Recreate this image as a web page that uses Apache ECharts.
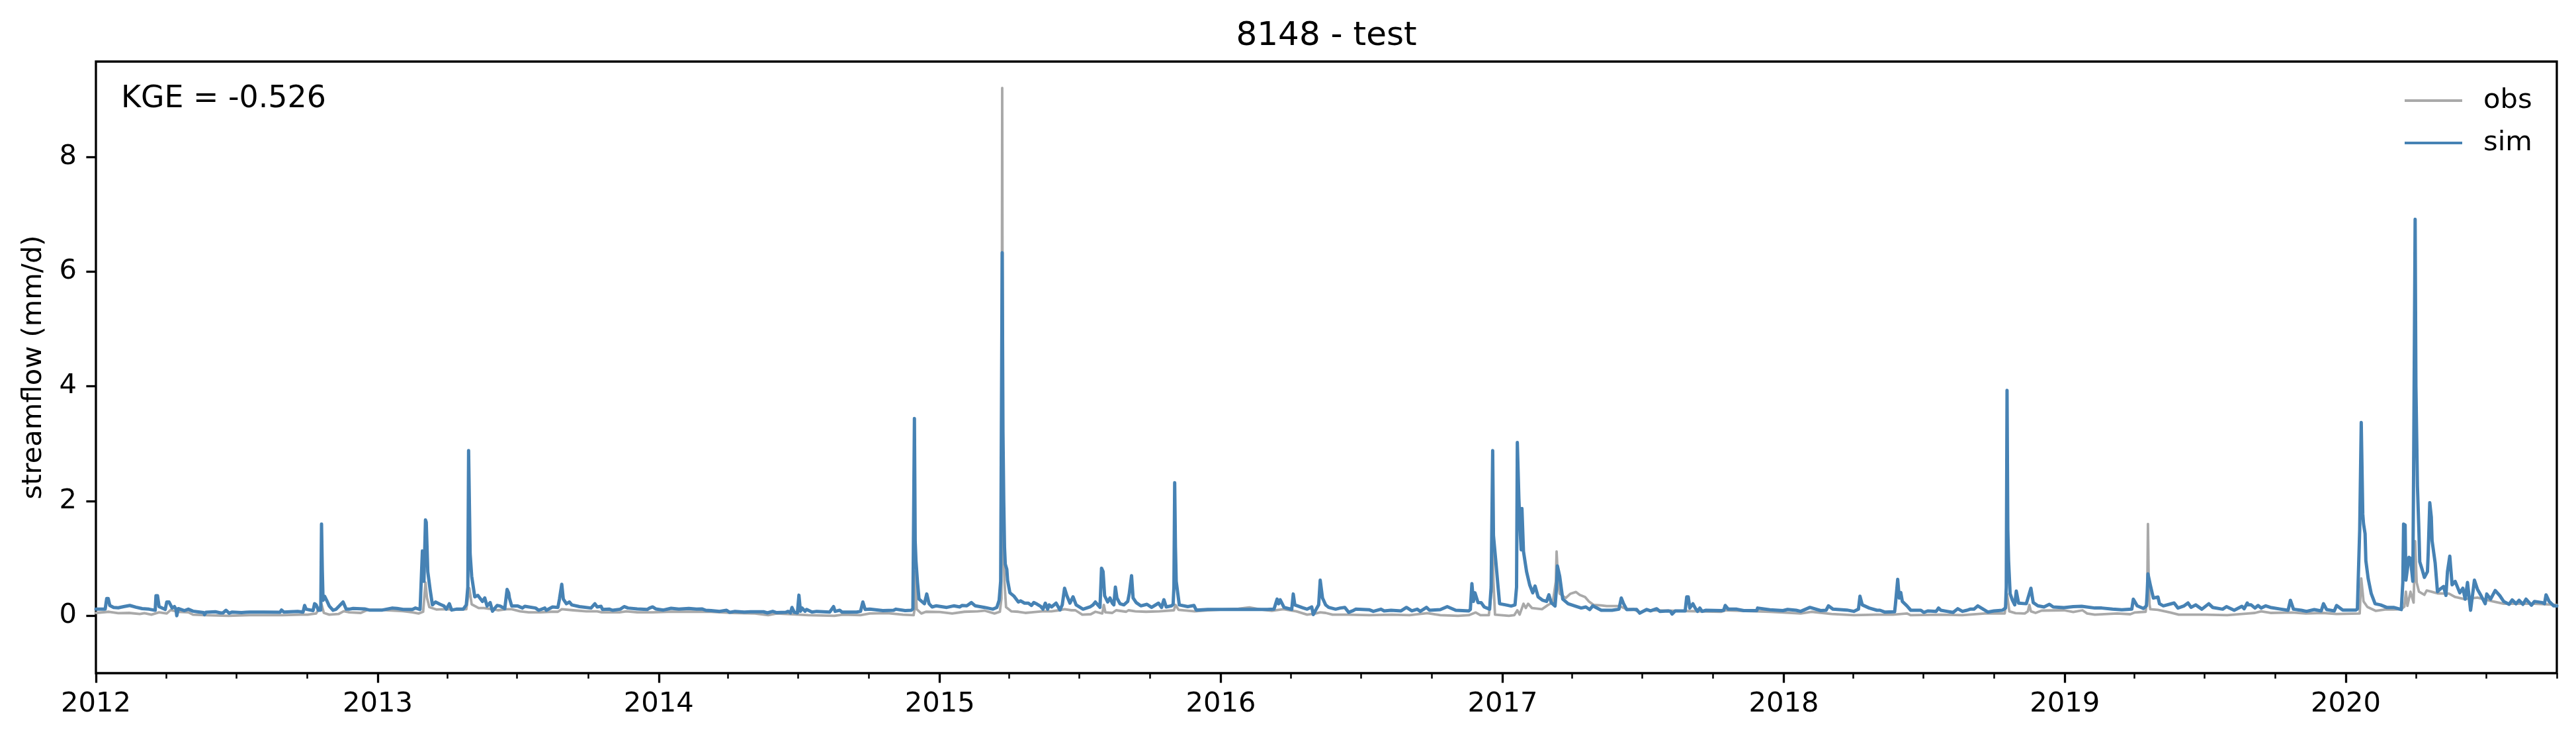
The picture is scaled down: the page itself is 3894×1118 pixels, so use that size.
<!DOCTYPE html>
<html>
<head>
<meta charset="utf-8">
<style>html,body{margin:0;padding:0;background:#fff}#c{width:3894px;height:1118px}</style>
<script src="https://cdn.jsdelivr.net/npm/echarts@6/dist/echarts.min.js"></script>
</head>
<body>
<div id="c"></div>
<script>
// [days since 2012-01-01, streamflow in mm/d]
const simFlow = [[0,.115],[12,.115],[14,.30],[16,.30],[18,.18],[23,.145],[29,.14],[36,.16],[44,.18],[52,.15],[60,.125],[69,.115],[77,.095],[78,.35],[80,.35],[82,.16],[90,.11],[92,.24],[95,.24],[99,.135],[102,.16],[104,.115],[105,0],[107,.125],[115,.09],[120,.115],[126,.08],[135,.065],[140,.055],[141,.02],[143,.06],[155,.07],[162,.05],[165,.05],[169,.096],[173,.045],[177,.065],[189,.055],[195,.06],[200,.065],[218,.065],[239,.06],[241,.10],[244,.065],[252,.07],[262,.077],[269,.065],[271,.18],[273,.115],[282,.09],[284,.21],[286,.19],[289,.096],[292,.10],[293,1.60],[294,.8],[295,.27],[297,.34],[300,.26],[303,.17],[308,.096],[312,.115],[316,.17],[321,.24],[325,.115],[329,.115],[334,.127],[349,.12],[355,.10],[372,.10],[385,.135],[391,.127],[399,.11],
[411,.11],[415,.135],[421,.11],[422,.115],[424,1.13],[426,.60],[428,1.67],[429,1.63],[431,.77],[434,.46],[437,.19],[441,.24],[447,.20],[452,.17],[455,.115],[459,.21],[462,.10],[468,.115],[477,.115],[481,.19],[483,.5],[484,2.88],[486,1.08],[488,.69],[492,.33],[496,.355],[502,.25],[505,.31],[508,.17],[512,.23],[515,.08],[521,.18],[525,.17],[531,.125],[534,.46],[536,.40],[537,.31],[540,.17],[548,.17],[554,.135],[557,.165],[571,.135],[575,.096],[583,.135],[585,.096],[593,.154],[600,.146],[602,.29],[605,.55],[607,.29],[611,.21],[615,.24],[618,.19],[628,.16],[643,.135],[648,.21],[651,.154],[656,.165],[658,.11],[667,.115],[671,.096],[681,.115],[686,.16],[691,.135],[703,.12],[716,.11],[719,.135],[723,.154],[727,.12],[737,.10],[747,.13],[757,.115],[770,.127],[780,.115],[787,.12],[792,.096],[799,.09],
[810,.077],[819,.096],[823,.06],[830,.077],[842,.065],[850,.07],[867,.07],[872,.05],[879,.077],[884,.055],[896,.06],[899,.077],[902,.05],[904,.145],[907,.06],[911,.05],[913,.36],[914,.36],[915,.08],[917,.135],[921,.08],[923,.11],[930,.065],[936,.077],[953,.065],[958,.16],[960,.077],[966,.096],[969,.065],[988,.065],[993,.077],[996,.24],[999,.11],[1005,.115],[1022,.09],[1036,.096],[1039,.115],[1051,.09],[1059,.096],[1061,.12],[1063,3.44],[1064,1.3],[1065,.96],[1067,.58],[1069,.29],[1076,.21],[1079,.38],[1082,.21],[1086,.154],[1091,.173],[1105,.146],[1114,.173],[1122,.154],[1125,.18],[1131,.173],[1137,.23],[1142,.173],[1154,.146],[1165,.115],[1170,.146],[1173,.27],[1175,.6],[1177,6.33],[1178,3.2],[1179,2.0],[1180,1.2],[1181,.9],[1183,.81],[1184,.62],[1187,.40],[1192,.346],[1198,.24],
[1201,.26],[1206,.22],[1211,.22],[1215,.18],[1218,.23],[1222,.205],[1227,.163],[1230,.115],[1233,.22],[1236,.115],[1238,.19],[1241,.154],[1247,.22],[1252,.10],[1255,.19],[1258,.48],[1261,.35],[1265,.22],[1269,.33],[1273,.19],[1282,.115],[1291,.154],[1295,.19],[1298,.24],[1304,.146],[1306,.83],[1308,.77],[1310,.35],[1314,.24],[1317,.31],[1320,.22],[1322,.19],[1324,.50],[1326,.31],[1330,.21],[1335,.19],[1340,.25],[1342,.385],[1345,.70],[1347,.31],[1351,.23],[1357,.173],[1365,.20],[1371,.146],[1380,.22],[1384,.146],[1387,.28],[1390,.154],[1397,.173],[1399,.20],[1400,.5],[1401,2.32],[1402,1.2],[1403,.6],[1407,.19],[1418,.16],[1426,.18],[1429,.10],[1444,.11],[1484,.11],[1504,.11],[1521,.11],[1530,.115],[1534,.29],[1536,.21],[1538,.28],[1543,.146],[1553,.11],[1555,.38],[1557,.19],[1567,.14],[1573,.115],[1579,.154],[1581,.02],[1584,.096],[1588,.19],[1590,.62],[1593,.31],[1597,.19],
[1601,.146],[1610,.115],[1616,.135],[1622,.146],[1627,.06],[1632,.085],[1636,.115],[1654,.104],[1659,.077],[1669,.115],[1673,.085],[1682,.096],[1695,.085],[1702,.146],[1709,.085],[1716,.115],[1720,.077],[1728,.146],[1732,.096],[1746,.108],[1755,.16],[1766,.096],[1783,.085],[1785,.11],[1787,.56],[1789,.25],[1791,.4],[1792,.41],[1795,.23],[1799,.23],[1803,.154],[1810,.115],[1812,.5],[1814,2.88],[1815,1.4],[1818,.96],[1821,.5],[1823,.21],[1831,.19],[1838,.17],[1843,.19],[1845,.5],[1846,3.02],[1848,2.05],[1850,1.4],[1851,1.15],[1852,1.87],[1853,1.87],[1854,1.12],[1858,.77],[1862,.54],[1866,.40],[1869,.52],[1873,.33],[1879,.27],[1884,.25],[1887,.365],[1890,.23],[1895,.17],[1897,.5],[1898,.87],[1901,.69],[1905,.29],[1912,.21],[1921,.17],[1929,.135],[1935,.154],[1940,.108],[1944,.173],[1955,.096],[1969,.096],[1978,.115],[1981,.31],[1984,.21],[1988,.108],[1997,.11],
[2001,.11],[2005,.046],[2014,.11],[2019,.085],[2027,.123],[2031,.077],[2042,.085],[2045,.077],[2047,.03],[2051,.085],[2064,.085],[2066,.33],[2068,.33],[2070,.135],[2074,.21],[2077,.135],[2080,.077],[2083,.135],[2086,.077],[2091,.096],[2111,.09],[2114,.096],[2116,.18],[2120,.115],[2131,.115],[2140,.09],[2157,.09],[2158,.135],[2174,.104],[2191,.09],[2197,.11],[2208,.096],[2214,.077],[2226,.146],[2240,.09],[2247,.096],[2250,.173],[2256,.115],[2274,.10],[2283,.077],[2289,.115],[2291,.34],[2294,.19],[2303,.135],[2313,.096],[2317,.096],[2323,.065],[2336,.07],[2337,.19],[2340,.635],[2342,.31],[2344,.405],[2346,.25],[2352,.173],[2357,.096],[2370,.096],[2374,.058],[2379,.085],[2390,.077],[2393,.135],[2396,.096],
[2404,.077],[2412,.058],[2418,.123],[2424,.077],[2430,.096],[2434,.115],[2439,.115],[2444,.173],[2450,.123],[2457,.065],[2465,.085],[2476,.096],[2480,.135],[2481,.5],[2482,3.93],[2483,1.5],[2484,.96],[2486,.385],[2489,.27],[2492,.19],[2494,.43],[2497,.22],[2507,.21],[2513,.48],[2516,.23],[2522,.173],[2530,.154],[2537,.20],[2542,.154],[2556,.142],[2568,.16],[2579,.165],[2596,.135],[2605,.135],[2619,.115],[2631,.104],[2644,.115],[2646,.29],[2651,.173],[2659,.127],[2663,.173],[2664,.4],[2665,.73],[2668,.54],[2672,.31],[2678,.327],[2680,.21],[2685,.173],[2699,.223],[2704,.135],[2712,.173],[2717,.223],[2721,.146],[2727,.19],[2735,.115],[2744,.21],[2749,.146],[2762,.115],[2767,.16],[2777,.096],[2787,.165],[2790,.123],[2794,.223],[2795,.19],
[2799,.19],[2804,.135],[2808,.18],[2812,.135],[2818,.173],[2824,.146],[2838,.115],[2847,.096],[2850,.27],[2854,.115],[2864,.096],[2871,.077],[2881,.108],[2890,.085],[2893,.21],[2897,.108],[2907,.085],[2910,.18],[2918,.10],[2935,.10],[2937,.12],[2940,1.5],[2942,3.37],[2944,1.77],[2945,1.6],[2947,1.43],[2948,.96],[2951,.65],[2955,.385],[2960,.21],[2967,.19],[2975,.146],[2984,.146],[2994,.108],[2996,.58],[2997,1.6],[2999,1.58],[3000,.62],[3004,1.02],[3006,1.0],[3009,.6],[3010,2.5],[3012,6.91],[3013,4],[3015,2.26],[3017,1.43],[3018,.94],[3021,.81],[3024,.67],[3028,.77],[3029,1.1],[3031,1.97],[3033,1.72],[3034,1.31],[3038,.92],[3041,.42],[3044,.46],[3049,.51],[3052,.355],[3054,.77],[3057,1.04],[3060,.54],[3064,.6],[3070,.40],[3074,.48],[3077,.29],[3080,.58],[3084,.096],[3089,.62],[3093,.46],[3097,.365],[3103,.21],[3105,.38],[3110,.29],[3116,.44],[3122,.35],[3127,.25],[3134,.2],[3138,.277],[3143,.21],[3147,.27],[3152,.2],[3156,.29],[3163,.185],[3167,.25],[3177,.23],[3180,.21],[3182,.365],[3186,.25],[3192,.173],[3196,.17]];

const obsFlow = [[0,.05],[17,.07],[29,.045],[43,.05],[57,.03],[63,.045],[72,.02],[77,.04],[82,.06],[92,.04],[97,.10],[106,.07],[120,.06],[126,.02],[140,.01],[172,0],[200,.01],[243,.01],[266,.02],[275,.02],[286,.04],[293,.2],[296,.05],[303,.02],[315,.03],[322,.08],[329,.06],[344,.05],[352,.10],[372,.10],[399,.08],
[411,.06],[419,.04],[425,.07],[428,.58],[430,.31],[433,.15],[442,.11],[451,.115],[471,.105],[481,.115],[485,.48],[488,.20],[497,.135],[504,.135],[514,.115],[522,.096],[534,.115],[540,.115],[551,.077],[562,.06],[577,.06],[591,.07],[600,.07],[605,.115],[620,.096],[637,.077],[651,.077],[657,.06],[680,.06],[689,.077],[703,.06],[723,.06],[743,.07],[772,.07],[799,.07],
[827,.05],[856,.04],[873,.01],[884,.04],[913,.02],[925,.01],[959,0],[970,.02],[993,.01],[1005,.04],[1028,.046],[1048,.02],[1062,.01],[1063,.1],[1064,.77],[1066,.115],[1072,.04],[1078,.07],[1096,.065],[1112,.04],[1128,.07],[1145,.077],[1154,.09],[1167,.04],[1174,.07],[1176,.3],[1177,9.2],[1178,1.5],[1180,.58],[1182,.15],[1189,.077],[1198,.07],
[1207,.05],[1215,.06],[1229,.077],[1241,.077],[1251,.096],[1258,.115],[1267,.096],[1272,.096],[1281,.02],[1292,.027],[1298,.07],[1307,.04],[1309,.19],[1311,.06],[1320,.05],[1325,.096],[1338,.07],[1341,.096],[1350,.077],[1364,.07],[1381,.077],[1400,.096],[1402,.19],[1406,.104],[1427,.077],[1444,.096],[1484,.123],[1498,.146],[1513,.108],[1527,.085],[1542,.115],[1559,.077],[1573,.02],[1584,.04],[1590,.06],[1597,.05],
[1606,.02],[1626,.02],[1654,.01],[1683,.02],[1706,.01],[1729,.046],[1746,.01],[1769,0],[1783,.01],[1792,.058],[1798,.01],[1809,.01],[1813,.5],[1814,1.35],[1815,.6],[1817,.02],[1835,0],[1842,.01],[1846,.096],[1849,.02],[1854,.21],[1857,.135],[1860,.21],[1865,.135],[1878,.115],[1886,.19],[1892,.23],[1896,.6],[1897,1.12],[1899,.6],[1901,.385],[1909,.31],[1915,.385],[1922,.415],[1927,.365],[1934,.327],[1939,.25],[1945,.19],[1955,.18],[1962,.17],[1978,.17],[1988,.115],[1997,.115],
[2005,.058],[2014,.096],[2111,.07],[2117,.096],[2174,.07],[2191,.058],[2214,.04],[2228,.07],[2254,.03],[2283,.01],[2311,.02],[2334,.02],[2352,.04],[2357,.01],[2396,.02],
[2424,.01],[2453,.04],[2479,.04],[2482,.38],[2485,.077],[2493,.046],[2505,.04],[2509,.077],[2511,.19],[2513,.077],[2519,.05],[2527,.09],[2556,.096],[2568,.065],[2580,.096],[2586,.04],[2596,.02],[2625,.04],[2642,.027],[2648,.058],[2662,.07],[2664,.3],[2665,1.6],[2666,.6],[2667,.2],[2668,.115],[2678,.104],[2694,.058],[2705,.02],[2739,.02],[2768,.01],[2795,.04],
[2804,.05],[2812,.077],[2824,.05],[2852,.058],[2870,.04],[2892,.05],[2910,.03],[2940,.04],[2942,.65],[2945,.25],[2950,.154],[2961,.085],[2973,.108],[2984,.108],[2994,.115],[2998,.16],[3000,.42],[3002,.173],[3006,.42],[3010,.23],[3012,1.3],[3014,.58],[3017,.42],[3024,.365],[3027,.44],[3033,.42],[3041,.39],[3056,.385],[3064,.327],[3076,.29],[3093,.316],[3113,.25],[3127,.21],[3147,.21],[3167,.21],[3196,.19]];

const startDate = '2012-01-01';
const endDate = '2020-10-01';
const yearTicks = ['2012','2013','2014','2015','2016','2017','2018','2019','2020'];
const quarterMonths = ['04','07','10'];
const flowTicks = [0,2,4,6,8];
const yRange = [-1, 9.66];
const seriesNames = ['obs','sim'];
const titleText = '8148 - test';
const scoreText = 'KGE = -0.526';
const yLabel = 'streamflow (mm/d)';

const FONT = '"DejaVu Sans"';
const ms = s => Date.parse(s + 'T00:00:00Z');
const DAY = 86400000;
const toDated = rows => rows.map(r => [ms(startDate) + r[0] * DAY, r[1]]);
const yearMs = yearTicks.map(y => ms(y + '-01-01'));
const minorMs = [];
yearTicks.forEach(y => quarterMonths.forEach(m => {
  const t = ms(y + '-' + m + '-01');
  if (t <= ms(endDate)) minorMs.push(t);
}));

const chart = echarts.init(document.getElementById('c'), null, {renderer:'canvas', width:3894, height:1118});
const xBase = {
  type:'value', min:ms(startDate), max:ms(endDate), scale:true,
  position:'bottom', splitLine:{show:false}, minorTick:{show:false},
  axisLine:{show:false, onZero:false}, axisPointer:{show:false}
};
chart.setOption({
  animation:false,
  backgroundColor:'#ffffff',
  textStyle:{fontFamily:FONT, color:'#000'},
  grid:{left:145, right:29, top:93, bottom:101, show:true, borderColor:'#000', borderWidth:3.3, backgroundColor:'transparent', containLabel:false},
  title:[
    {text:titleText, left:2005, top:30, textAlign:'center', textStyle:{fontFamily:FONT, fontSize:50, fontWeight:'normal', color:'#000'}, padding:0},
    {text:scoreText, left:183, top:127, textStyle:{fontFamily:FONT, fontSize:45.83, fontWeight:'normal', color:'#000'}, padding:0}
  ],
  legend:{
    orient:'vertical', left:3635, top:131, padding:0, itemWidth:87, itemHeight:4, itemGap:22,
    icon:'rect', data:seriesNames, selectedMode:false,
    textStyle:{fontFamily:FONT, fontSize:41.67, color:'#000', padding:[0,0,0,27]}
  },
  xAxis:[
    Object.assign({}, xBase, {
      axisTick:{show:true, length:8.3, lineStyle:{color:'#000', width:2.5}, customValues:minorMs},
      axisLabel:{show:false}
    }),
    Object.assign({}, xBase, {
      axisTick:{show:true, length:14.6, lineStyle:{color:'#000', width:3.3}, customValues:yearMs},
      axisLabel:{show:true, margin:26, fontFamily:FONT, fontSize:41.67, color:'#000', customValues:yearMs,
        alignMinLabel:'center', alignMaxLabel:'center', hideOverlap:false,
        formatter:v => String(new Date(v).getUTCFullYear())}
    })
  ],
  yAxis:{
    type:'value', min:yRange[0], max:yRange[1],
    name:yLabel, nameLocation:'middle', nameGap:73, nameRotate:90,
    nameTextStyle:{fontFamily:FONT, fontSize:41.67, color:'#000'},
    splitLine:{show:false}, axisLine:{show:false},
    axisTick:{show:true, length:14.6, lineStyle:{color:'#000', width:3.3}, customValues:flowTicks},
    axisLabel:{show:true, margin:29, fontFamily:FONT, fontSize:41.67, color:'#000', customValues:flowTicks, padding:[4,0,0,0], formatter:v => String(v)}
  },
  series:[
    {name:seriesNames[0], type:'line', xAxisIndex:1, data:toDated(obsFlow), showSymbol:false, symbol:'none', sampling:false, smooth:false, z:2,
     itemStyle:{color:'#A9A9A9'}, lineStyle:{color:'#A9A9A9', width:3.8, join:'round', cap:'round'}},
    {name:seriesNames[1], type:'line', xAxisIndex:1, data:toDated(simFlow), showSymbol:false, symbol:'none', sampling:false, smooth:false, z:3,
     itemStyle:{color:'#4682B4'}, lineStyle:{color:'#4682B4', width:5, join:'round', cap:'round'}}
  ]
});
</script>
</body>
</html>
